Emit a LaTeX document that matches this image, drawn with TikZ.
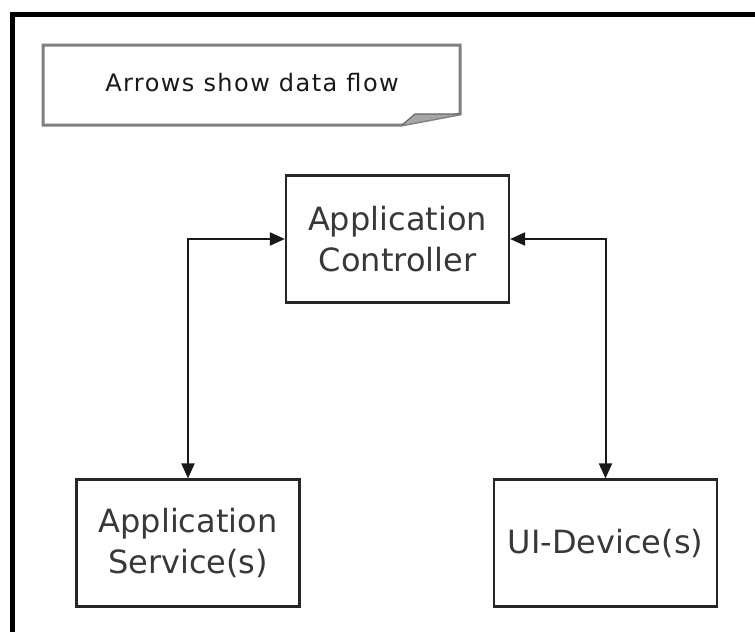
\documentclass[tikz,border=0pt]{standalone}
\usepackage{fontspec}
\setmainfont{DejaVu Sans}
\newfontfamily\notefont[LetterSpace=6]{DejaVu Sans}
\usetikzlibrary{arrows.meta}
\tikzset{
  box/.style={draw=black!85, line width=2.2pt, minimum width=223pt, minimum height=127pt, inner sep=0pt, align=center,
    text=black!78, font=\fontsize{32pt}{41pt}\selectfont},
  flow/.style={draw=black!90, line width=2pt, {Triangle[length=15pt,width=13pt]}-{Triangle[length=15pt,width=13pt]}},
}
\begin{document}
\begin{tikzpicture}[x=1pt,y=-1pt]
\useasboundingbox (0,0) rectangle (755,632);
% outer frame
\draw[line width=5pt, black] (12,632) -- (12,14) -- (755,14);
% note
\draw[line width=3pt, draw=black!50, fill=white] (43,45) -- (460,45) -- (460,114) -- (402,125) -- (43,125) -- cycle;
\fill[black!35] (402,125) -- (415,114) -- (460,114) -- cycle;
\draw[line width=1.2pt, draw=black!60] (402,125) -- (415,114) -- (460,114);
\node[font=\notefont\fontsize{24pt}{28pt}\selectfont, text=black!90] (note) at (252,83) {Arrows show data flow};
% boxes
\node[box] (ctrl) at (397.5,239) {Application\\Controller};
\node[box] (svc) at (188,543) {Application\\Service(s)};
\node[box] (dev) at (605.5,543) {UI-Device(s)};
% connectors
\draw[flow] (svc.north) |- (ctrl.west);
\draw[flow] (dev.north) |- (ctrl.east);
\end{tikzpicture}
\end{document}
